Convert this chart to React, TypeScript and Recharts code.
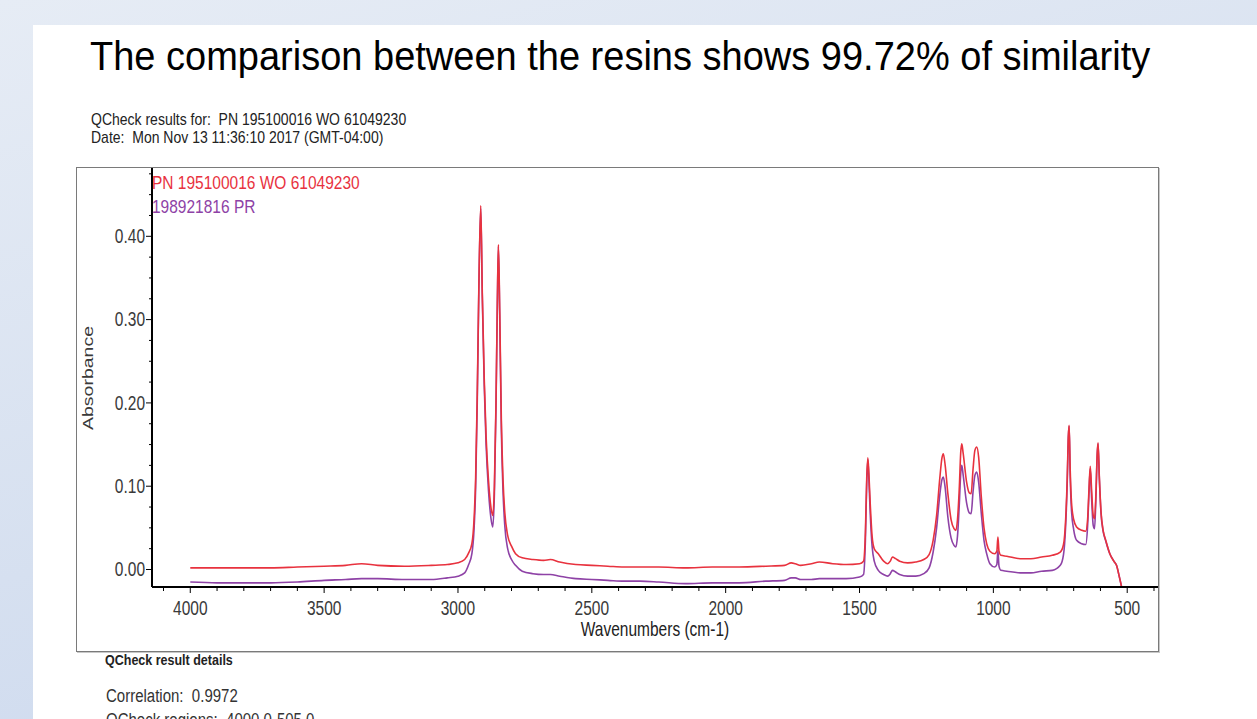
import React from 'react';
import { LineChart, Line, XAxis, YAxis } from 'recharts';

// FTIR spectra (wavenumber, absorbance)
const wavenumbers = [
  4000, 3900, 3800, 3700, 3600, 3500, 3420, 3360, 3300, 3200, 3100, 3040, 3000, 2975, 2960, 2948,
  2940, 2934, 2928, 2922, 2915, 2909, 2902, 2895, 2886, 2877, 2870, 2864, 2858, 2853, 2849, 2844,
  2838, 2832, 2825, 2815, 2800, 2785, 2760, 2720, 2680, 2655, 2620, 2560, 2500, 2440, 2380, 2320,
  2250, 2150, 2050, 1950, 1850, 1780, 1755, 1740, 1720, 1680, 1650, 1600, 1550, 1500, 1485, 1478,
  1473, 1469, 1465, 1460, 1453, 1445, 1430, 1410, 1395, 1385, 1377, 1365, 1350, 1320, 1290, 1260,
  1240, 1225, 1212, 1200, 1192, 1187, 1180, 1170, 1158, 1147, 1140, 1134, 1127, 1122, 1118, 1113,
  1100, 1090, 1083, 1076, 1069, 1062, 1055, 1045, 1035, 1025, 1013, 995, 987, 983, 979, 972,
  950, 900, 860, 820, 780, 750, 738, 730, 724, 720, 717, 713, 708, 700, 689, 670,
  655, 648, 643, 638, 633, 627, 622, 617, 612, 609, 604, 598, 590, 580, 565, 550,
  540, 530, 521, 505,
];

const sampleAbs = [
  0.002, 0.002, 0.002, 0.002, 0.003, 0.004, 0.005, 0.007, 0.005, 0.004, 0.005, 0.006, 0.008, 0.012, 0.02, 0.031,
  0.06, 0.11, 0.21, 0.34, 0.437, 0.33, 0.23, 0.16, 0.107, 0.075, 0.065, 0.1, 0.2, 0.32, 0.39, 0.31,
  0.18, 0.11, 0.068, 0.042, 0.028, 0.019, 0.014, 0.012, 0.011, 0.012, 0.009, 0.006, 0.005, 0.004, 0.003, 0.003,
  0.003, 0.002, 0.003, 0.003, 0.004, 0.005, 0.008, 0.007, 0.005, 0.007, 0.009, 0.007, 0.006, 0.007, 0.01, 0.045,
  0.11, 0.134, 0.115, 0.079, 0.04, 0.025, 0.019, 0.01, 0.007, 0.01, 0.015, 0.013, 0.01, 0.008, 0.009, 0.012,
  0.018, 0.035, 0.065, 0.11, 0.134, 0.139, 0.125, 0.091, 0.06, 0.049, 0.047, 0.06, 0.1, 0.14, 0.151, 0.14,
  0.105, 0.092, 0.091, 0.12, 0.143, 0.147, 0.135, 0.087, 0.05, 0.031, 0.022, 0.019, 0.022, 0.039, 0.022, 0.017,
  0.016, 0.013, 0.013, 0.015, 0.017, 0.021, 0.03, 0.06, 0.11, 0.16, 0.173, 0.12, 0.08, 0.06, 0.051, 0.047,
  0.046, 0.06, 0.095, 0.124, 0.095, 0.065, 0.061, 0.09, 0.14, 0.152, 0.11, 0.07, 0.047, 0.035, 0.019, 0.01,
  0.005, -0.008, -0.021, -0.05,
];

const referenceAbs = [
  -0.015, -0.016, -0.016, -0.016, -0.015, -0.013, -0.012, -0.011, -0.011, -0.012, -0.012, -0.01, -0.008, -0.004, 0.006, 0.019,
  0.048, 0.098, 0.2, 0.336, 0.434, 0.325, 0.222, 0.15, 0.095, 0.062, 0.051, 0.09, 0.194, 0.316, 0.388, 0.302,
  0.168, 0.096, 0.052, 0.026, 0.012, 0.005, -0.002, -0.005, -0.006, -0.006, -0.008, -0.011, -0.012, -0.013, -0.014, -0.014,
  -0.015, -0.017, -0.016, -0.016, -0.014, -0.013, -0.01, -0.01, -0.012, -0.012, -0.011, -0.011, -0.011, -0.009, -0.006, 0.035,
  0.105, 0.132, 0.108, 0.067, 0.028, 0.01, -0.001, -0.006, -0.008, -0.005, -0.001, -0.003, -0.006, -0.008, -0.008, -0.005,
  0.002, 0.021, 0.05, 0.09, 0.108, 0.111, 0.098, 0.063, 0.038, 0.029, 0.027, 0.04, 0.08, 0.115, 0.125, 0.114,
  0.08, 0.068, 0.067, 0.093, 0.113, 0.117, 0.105, 0.067, 0.035, 0.019, 0.007, 0.003, 0.006, 0.023, 0.004, -0.001,
  -0.002, -0.004, -0.004, -0.002, -0.001, 0.005, 0.018, 0.052, 0.105, 0.158, 0.172, 0.112, 0.07, 0.048, 0.035, 0.031,
  0.03, 0.052, 0.09, 0.121, 0.085, 0.053, 0.049, 0.085, 0.138, 0.151, 0.108, 0.068, 0.046, 0.034, 0.019, 0.01,
  0.005, -0.008, -0.021, -0.05,
];

const xMajorTicks = [4000, 3500, 3000, 2500, 2000, 1500, 1000, 500];
const xAllTicks = [
  4100, 4000, 3900, 3800, 3700, 3600, 3500, 3400, 3300, 3200, 3100, 3000, 2900, 2800, 2700, 2600,
  2500, 2400, 2300, 2200, 2100, 2000, 1900, 1800, 1700, 1600, 1500, 1400, 1300, 1200, 1100, 1000,
  900, 800, 700, 600, 500, 400,
];
const yMajorTicks = [0, 0.1, 0.2, 0.3, 0.4];
const yAllTicks = [
  0, 0.025, 0.05, 0.075, 0.1, 0.125, 0.15, 0.175, 0.2, 0.225, 0.25, 0.275, 0.3, 0.325, 0.35, 0.375,
  0.4, 0.425, 0.45, 0.475,
];

const sampleName = 'PN 195100016 WO 61049230';
const referenceName = '198921816 PR';

const RED = '#e8323e';
const PURPLE = '#8e42a6';
const FONT = '"Liberation Sans", Arial, sans-serif';

const data = wavenumbers.map((wn, i) => ({ wn, sample: sampleAbs[i], reference: referenceAbs[i] }));

const isMajor = (list: number[], v: number) => list.some((m) => Math.abs(m - v) < 1e-6);

function XTick(props: any) {
  const { x, y, payload } = props;
  const major = isMajor(xMajorTicks, payload.value);
  return (
    <g>
      <line x1={x} x2={x} y1={y} y2={y + (major ? 6 : 4)} stroke="#000" strokeWidth={1} />
      {major && (
        <text
          transform={`translate(${x},${y + 21}) scale(1,1.25)`}
          textAnchor="middle"
          dominantBaseline="central"
          fontSize={15.5}
          fontFamily={FONT}
          fill="#3a3a3a"
        >
          {payload.value}
        </text>
      )}
    </g>
  );
}

function YTick(props: any) {
  const { x, y, payload } = props;
  const major = isMajor(yMajorTicks, payload.value);
  return (
    <g>
      <line x1={x} x2={x - (major ? 6 : 3)} y1={y} y2={y} stroke="#000" strokeWidth={1} />
      {major && (
        <text
          transform={`translate(${x - 7},${y}) scale(1,1.25)`}
          textAnchor="end"
          dominantBaseline="central"
          fontSize={15.5}
          fontFamily={FONT}
          fill="#3a3a3a"
        >
          {payload.value.toFixed(2)}
        </text>
      )}
    </g>
  );
}

const abs = (left: number, top: number, extra: React.CSSProperties = {}): React.CSSProperties => ({
  position: 'absolute',
  left,
  top,
  fontFamily: FONT,
  whiteSpace: 'pre',
  lineHeight: 1,
  ...extra,
});

export default function App() {
  return (
    <div
      style={{
        position: 'absolute',
        left: 0,
        top: 0,
        width: 1257,
        height: 719,
        overflow: 'hidden',
        background: 'linear-gradient(165deg, #e6ecf5 0%, #d6e0f0 55%, #c8d6ee 100%)',
      }}
    >
      <div style={{ position: 'absolute', left: 33, top: 25, right: 0, bottom: 0, background: '#fff' }} />

      <div style={abs(90, 35, { fontSize: 38, color: '#000', transform: 'scaleY(1.08)', transformOrigin: 'left top' })}>
        The comparison between the resins shows 99.72% of similarity
      </div>

      <div style={abs(91, 111, { fontSize: 14, color: '#222', transform: 'scaleY(1.2)', transformOrigin: 'left top' })}>
        {'QCheck results for:  PN 195100016 WO 61049230'}
      </div>
      <div style={abs(91, 129, { fontSize: 14, color: '#222', transform: 'scaleY(1.2)', transformOrigin: 'left top' })}>
        {'Date:  Mon Nov 13 11:36:10 2017 (GMT-04:00)'}
      </div>

      {/* report frame */}
      <div
        style={{
          position: 'absolute',
          left: 76,
          top: 167,
          width: 1081,
          height: 483,
          border: '1px solid #7a7a7a',
          boxShadow: '1px 1px 0 #c8c8c8',
        }}
      />

      <div style={{ position: 'absolute', left: 0, top: 0 }}>
        <LineChart width={1257} height={719} data={data} margin={{ top: 168, right: 99, bottom: 72, left: 82 }}>
          <XAxis
            dataKey="wn"
            type="number"
            reversed
            domain={[385, 4143]}
            allowDataOverflow
            ticks={xAllTicks}
            interval={0}
            tickSize={0}
            tickMargin={0}
            tickLine={false}
            tick={<XTick />}
            axisLine={{ stroke: '#000', strokeWidth: 2 }}
            height={60}
          />
          <YAxis
            type="number"
            domain={[-0.021, 0.482]}
            allowDataOverflow
            ticks={yAllTicks}
            interval={0}
            tickSize={0}
            tickMargin={0}
            tickLine={false}
            tick={<YTick />}
            axisLine={{ stroke: '#000', strokeWidth: 2 }}
            width={70}
          />
          <Line
            type="monotone"
            dataKey="reference"
            stroke={PURPLE}
            strokeWidth={1.6}
            dot={false}
            isAnimationActive={false}
          />
          <Line
            type="monotone"
            dataKey="sample"
            stroke={RED}
            strokeWidth={1.6}
            dot={false}
            isAnimationActive={false}
          />
        </LineChart>
      </div>

      <div style={abs(152, 173, { fontSize: 15.5, color: RED, transform: 'scaleY(1.2)', transformOrigin: 'left top' })}>
        {sampleName}
      </div>
      <div style={abs(152, 197, { fontSize: 15.5, color: PURPLE, transform: 'scaleY(1.2)', transformOrigin: 'left top' })}>
        {referenceName}
      </div>

      <div
        style={abs(87, 378, {
          fontSize: 15,
          color: '#3a3a3a',
          transform: 'translate(-50%, -50%) rotate(-90deg) scaleX(1.3)',
          transformOrigin: 'center',
        })}
      >
        Absorbance
      </div>
      <div
        style={abs(655, 629, {
          fontSize: 15.5,
          color: '#222',
          transform: 'translate(-50%, -50%) scaleY(1.25)',
        })}
      >
        Wavenumbers (cm-1)
      </div>

      <div style={abs(105, 653, { fontSize: 12.5, fontWeight: 'bold', color: '#222', transform: 'scaleY(1.2)', transformOrigin: 'left top' })}>
        QCheck result details
      </div>
      <div style={abs(106, 686, { fontSize: 15, color: '#333', transform: 'scaleY(1.2)', transformOrigin: 'left top' })}>
        {'Correlation:  0.9972'}
      </div>
      <div style={abs(106, 710, { fontSize: 15, color: '#333', transform: 'scaleY(1.2)', transformOrigin: 'left top' })}>
        {'QCheck regions:  4000.0-505.0'}
      </div>
    </div>
  );
}
